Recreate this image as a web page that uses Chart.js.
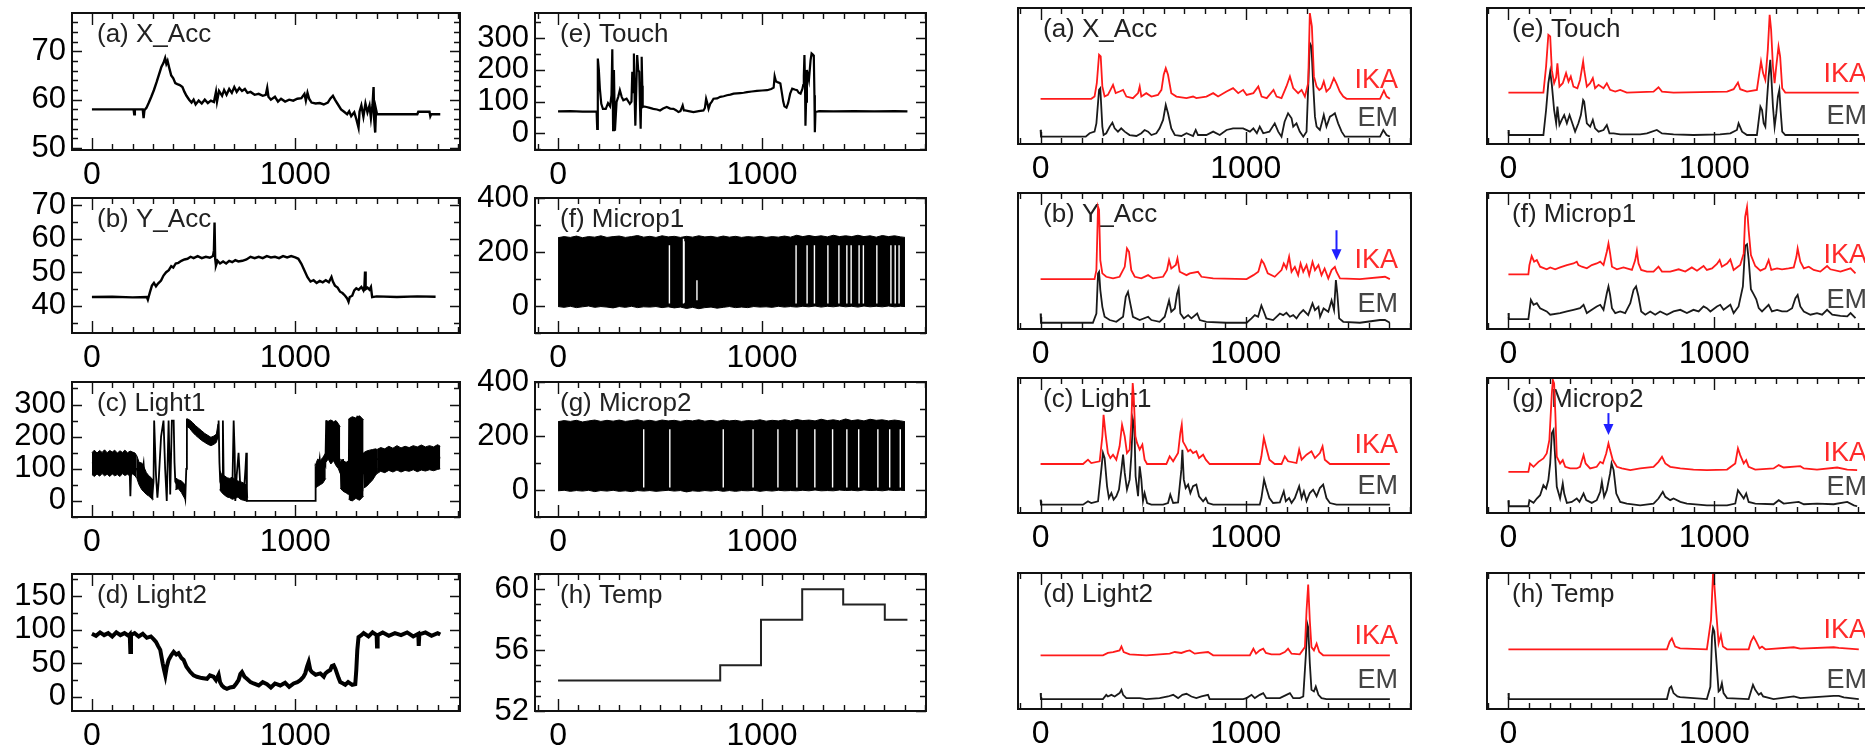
<!DOCTYPE html>
<html lang="en">
<head>
<meta charset="UTF-8">
<title>Sensor traces and change scores</title>
<script src="https://cdn.jsdelivr.net/npm/chart.js"></script>
<style>
    html, body { margin: 0; padding: 0; background: #fff; overflow: hidden; }
    body { width: 1865px; height: 748px; position: relative; }
    canvas { position: absolute; }
</style>
</head>
<body>
<script>
// ---------- raw sensor traces, [time, value] ----------
const xTickLabels = [0, 1000];

const accXTicks = [50, 60, 70];
const accX = [[0,58],[205,58],[208,57],[211,58],[250,58],[254,56.2],[258,57.8],[268,58.3],[280,59.4],[292,60.6],[305,62],[318,63.6],[330,65.2],[342,66.8],[352,67.6],[360,68.6],[366,67.4],[372,68],[380,66.6],[390,65],[400,64.4],[410,63.4],[420,63.2],[432,63],[445,62.6],[455,61.6],[465,60.8],[478,60],[490,59.4],[500,60],[510,59],[525,59.8],[540,59.2],[555,60],[570,59.3],[585,59.8],[600,59.5],[610,61.6],[615,59.6],[625,61.8],[640,60.8],[650,62],[662,61],[675,62.2],[688,61.4],[700,62.6],[712,61.6],[725,62.4],[738,61.8],[752,62.2],[765,61.4],[780,61.6],[800,61],[820,61.2],[840,60.8],[855,61],[862,62.4],[868,60.6],[880,60],[900,60.6],[915,59.6],[930,60.2],[950,59.6],[970,60],[990,59.8],[1010,60.2],[1030,60.3],[1045,61.2],[1052,59.8],[1060,61.4],[1068,60.2],[1080,59.4],[1100,59.2],[1120,59.3],[1140,59],[1160,59.4],[1172,60.2],[1185,60.8],[1195,60],[1210,59],[1225,58],[1240,57.5],[1255,57],[1265,57.6],[1275,56.6],[1290,57.4],[1300,56],[1311,54.2],[1316,57.5],[1325,58.8],[1335,56.5],[1345,59.2],[1355,57.4],[1365,58.8],[1372,56.2],[1380,59],[1385,62.6],[1388,56],[1393,53.2],[1397,58],[1402,57],[1450,57],[1600,57],[1605,57.5],[1660,57.5],[1664,56.6],[1668,57],[1713,57]];

const accYTicks = [40, 50, 60, 70];
const accY = [[0,42.6],[100,42.7],[200,42.5],[270,42.6],[275,41.8],[285,44],[295,46],[305,46.8],[315,45.8],[325,46.6],[340,47.5],[352,49],[365,50],[378,50.6],[390,51.8],[400,51.4],[412,52.6],[425,52.8],[440,53.4],[455,53.8],[470,54],[485,54.6],[500,54.2],[520,54.8],[540,54.2],[560,54.6],[580,54.3],[595,54.8],[600,56.5],[603,64.8],[606,54],[610,52],[618,53.4],[630,52.6],[645,53.2],[660,52.6],[675,53.4],[690,53],[705,53.6],[720,53.2],[740,53.4],[760,53.8],[780,54.6],[800,54.2],[820,54.6],[840,54.2],[860,54.8],[880,54.4],[900,54.6],[920,54.2],[940,54.8],[960,54.4],[980,54.8],[1000,54.4],[1015,54],[1030,52.5],[1045,50.5],[1060,48.5],[1075,47.2],[1090,47.6],[1105,46.8],[1120,47.4],[1135,47],[1150,47.6],[1165,47],[1178,48.6],[1185,47.2],[1195,46],[1208,45.4],[1220,44.2],[1232,43.8],[1245,43],[1255,42.2],[1262,41.2],[1268,42.6],[1280,43],[1290,44.6],[1300,45.2],[1312,44.8],[1325,45.6],[1335,44.6],[1340,45.8],[1343,50.2],[1346,45],[1355,45.4],[1365,44.8],[1372,45.6],[1378,42.6],[1400,42.8],[1500,42.6],[1600,42.8],[1690,42.7]];

const light1Ticks = [0, 100, 200, 300];
const light1 = [[0,120],[185,110],[189,15],[193,100],[221,100],[240,60],[254,116],[262,40],[280,30],[295,10],[303,60],[306,250],[315,80],[322,10],[328,60],[340,200],[352,250],[360,100],[368,0],[377,250],[385,20],[393,250],[402,250],[406,120],[410,60],[420,50],[435,60],[450,40],[459,8],[464,100],[467,250],[480,240],[500,225],[515,215],[533,205],[550,195],[566,189],[585,184],[600,188],[615,194],[620,215],[623,250],[627,120],[631,60],[640,40],[644,250],[648,60],[660,30],[675,40],[690,20],[697,250],[702,150],[705,0],[712,80],[721,150],[730,40],[740,20],[746,15],[755,100],[759,150],[762,0],[766,0],[1098,0],[1100,100],[1110,80],[1120,130],[1130,60],[1140,120],[1148,110],[1152,250],[1160,140],[1165,245],[1175,120],[1180,250],[1190,160],[1195,245],[1205,200],[1212,130],[1221,120],[1228,40],[1235,130],[1245,30],[1255,110],[1262,20],[1265,255],[1275,0],[1285,260],[1295,10],[1305,265],[1315,5],[1325,250],[1330,30],[1336,150],[1345,50],[1352,130],[1360,60],[1366,150],[1375,70],[1385,140],[1402,130],[1450,128],[1500,130],[1600,130],[1713,135]];
// dense stretches of Light1: [time, low edge, high edge]
const light1Bands = [
    [[0,82,150],[12,76,158],[25,84,149],[38,77,157],[50,85,151],[62,78,159],[75,83,150],[88,76,157],[100,84,152],[112,78,158],[125,82,149],[138,76,156],[150,85,151],[162,79,158],[175,83,150],[188,77,155],[200,84,152],[212,78,149],[221,70,140]],
    [[221,70,140],[232,50,120],[245,35,118],[256,28,105],[268,20,88],[280,15,78],[292,8,72],[303,5,62]],
    [[410,35,72],[425,38,66],[440,26,62],[452,12,55],[459,5,48]],
    [[467,232,256],[480,226,252],[495,214,244],[510,204,234],[525,196,226],[540,188,218],[555,182,210],[570,176,204],[585,172,198],[600,176,202],[612,182,208],[620,200,240]],
    [[628,35,95],[640,25,80],[652,18,78],[665,12,72],[678,10,70],[690,5,74],[705,8,66],[718,12,62],[730,5,60],[745,2,56],[758,0,50],[766,0,10]],
    [[1098,40,110],[1110,45,130],[1122,50,125],[1135,55,135],[1150,70,150]],
    [[1150,120,250],[1162,130,248],[1175,115,252],[1188,125,246],[1200,110,250],[1212,100,240],[1221,85,230]],
    [[1221,40,130],[1235,30,125],[1250,25,120],[1262,20,125]],
    [[1262,5,255],[1280,0,262],[1298,8,258],[1316,2,265],[1336,15,252]],
    [[1336,40,150],[1350,45,155],[1365,55,158],[1380,65,160],[1395,80,162],[1402,85,160]],
    [[1402,85,160],[1420,92,166],[1440,88,162],[1460,95,170],[1480,90,164],[1500,96,172],[1520,90,165],[1540,95,170],[1560,92,166],[1580,97,172],[1600,91,168],[1620,96,174],[1640,93,168],[1660,97,172],[1680,94,168],[1700,98,175],[1713,100,170]]
];

const light2Ticks = [0, 50, 100, 150];
const light2 = [[0,94],[20,91],[40,96],[60,92],[80,95],[100,90],[120,96],[140,92],[160,95],[180,91],[186,93],[189,67],[192,92],[210,95],[230,90],[250,94],[270,88],[290,90],[303,86],[315,82],[325,76],[336,70],[348,50],[355,40],[361,32],[368,45],[377,55],[390,62],[402,67],[415,63],[426,65],[440,58],[451,55],[465,45],[484,37],[500,32],[516,30],[540,28],[566,27],[580,32],[598,30],[610,25],[623,33],[630,22],[639,17],[650,14],[664,12],[680,14],[697,15],[710,20],[721,25],[730,34],[738,37],[750,30],[762,27],[780,22],[795,20],[820,17],[840,22],[861,19],[880,14],[900,20],[926,17],[950,21],[970,15],[992,20],[1010,22],[1025,25],[1040,30],[1049,35],[1058,45],[1066,52],[1074,40],[1082,37],[1100,33],[1123,35],[1140,30],[1148,35],[1160,38],[1172,40],[1180,46],[1189,47],[1197,42],[1205,35],[1213,28],[1221,22],[1235,20],[1246,18],[1260,22],[1280,18],[1295,19],[1300,40],[1305,70],[1311,89],[1325,92],[1336,95],[1360,90],[1380,96],[1400,92],[1402,75],[1405,92],[1430,96],[1460,91],[1490,95],[1520,92],[1550,96],[1580,90],[1605,94],[1607,76],[1610,93],[1640,96],[1670,91],[1700,95],[1713,93]];

const touchTicks = [0, 100, 200, 300];
const touch = [[0,69],[60,70],[120,68],[189,69],[192,14],[195,236],[200,200],[205,141],[212,93],[220,77],[234,77],[245,95],[255,85],[262,120],[266,265],[270,10],[274,200],[279,8],[287,99],[295,115],[303,136],[312,115],[320,104],[336,109],[352,93],[360,100],[364,194],[368,130],[372,252],[376,100],[379,24],[384,150],[388,247],[393,200],[398,194],[402,80],[405,14],[408,120],[410,242],[413,150],[415,83],[420,85],[434,83],[450,80],[467,77],[485,75],[500,72],[515,78],[533,83],[550,78],[566,77],[580,72],[590,67],[600,70],[611,88],[617,72],[623,72],[640,70],[664,67],[690,70],[713,72],[720,80],[726,109],[732,95],[738,77],[742,85],[746,93],[754,100],[762,109],[780,110],[795,115],[812,117],[828,120],[845,122],[861,125],[877,126],[893,127],[910,128],[926,130],[950,132],[975,134],[1000,135],[1025,136],[1045,140],[1057,144],[1062,180],[1068,165],[1074,162],[1082,160],[1090,157],[1098,125],[1104,100],[1110,85],[1120,81],[1128,95],[1138,125],[1148,141],[1160,138],[1172,136],[1180,128],[1189,125],[1198,140],[1202,152],[1205,180],[1208,247],[1211,150],[1213,24],[1216,100],[1220,200],[1230,168],[1238,230],[1243,252],[1250,248],[1254,242],[1257,120],[1259,3],[1262,67],[1280,70],[1350,69],[1450,70],[1550,69],[1650,70],[1713,69]];

const micTicks = [0, 200, 400];
// microphone traces oscillate too fast to resolve: [time, low edge, high edge]
const mic1Band = [[0,-2,253],[30,-5,257],[60,-1,254],[90,-6,259],[120,-3,253],[150,0,257],[180,-5,255],[210,-2,260],[240,-4,254],[270,-7,257],[300,-2,259],[330,-5,254],[360,-1,257],[390,-6,261],[420,-3,255],[450,-4,258],[480,-2,254],[510,-6,260],[540,-3,256],[570,-7,258],[600,-4,254],[630,-9,258],[660,-5,255],[690,-10,260],[720,-6,256],[750,-4,258],[780,-8,254],[810,-5,259],[840,-2,255],[870,-6,258],[900,-4,254],[930,-6,257],[960,-2,255],[990,-4,258],[1020,-3,254],[1050,-5,257],[1080,-1,255],[1110,-4,259],[1140,-2,255],[1170,-4,262],[1200,-1,257],[1230,-3,261],[1260,0,257],[1290,-4,260],[1320,-1,256],[1350,-3,262],[1380,0,257],[1410,-3,260],[1440,-1,257],[1470,-4,262],[1500,0,257],[1530,-3,260],[1560,-1,255],[1590,-3,261],[1620,0,257],[1650,-3,260],[1680,-1,256],[1701,-2,254]];
// short quiet spells inside the band: [time, from, to]
const mic1Gaps = [[546,225,9],[615,249,9],[618,240,12],[681,95,21],[1167,225,9],[1221,225,9],[1257,225,9],[1323,225,9],[1377,225,9],[1416,225,9],[1437,225,9],[1476,225,9],[1497,225,9],[1563,225,9],[1632,225,9],[1653,225,9],[1672,225,9]];

const mic2Band = [[0,-3,253],[30,-1,257],[60,-5,254],[90,-2,258],[120,-4,252],[150,-1,256],[180,-6,259],[210,-2,254],[240,-4,258],[270,-1,255],[300,-5,259],[330,-3,254],[360,-6,257],[390,-2,260],[420,-4,255],[450,-2,258],[480,-5,254],[510,-3,259],[540,-1,256],[570,-4,258],[600,-2,254],[630,-7,258],[660,-3,256],[690,-5,260],[720,-2,255],[750,-4,258],[780,-1,254],[810,-5,259],[840,-2,256],[870,-5,258],[900,-2,254],[930,-3,257],[960,-1,256],[990,-5,260],[1020,-2,255],[1050,-4,258],[1080,-1,256],[1110,-3,260],[1140,-2,256],[1170,-3,261],[1200,-1,257],[1230,-3,259],[1260,0,256],[1290,-3,262],[1320,-2,257],[1350,-3,260],[1380,0,256],[1410,-2,263],[1440,-1,257],[1470,-3,260],[1500,0,256],[1530,-2,262],[1560,-1,258],[1590,-3,260],[1620,0,256],[1650,-2,259],[1680,-1,256],[1701,-2,253]];
const mic2Gaps = [[420,225,9],[548,225,9],[810,225,9],[956,225,9],[1078,225,9],[1171,225,9],[1259,225,9],[1346,225,9],[1416,225,9],[1474,225,9],[1568,225,9],[1626,225,9],[1678,225,9]];

const tempTicks = [52, 56, 60];
const temp = [[0,54],[795,55],[995,58],[1197,60],[1398,59],[1602,58],[1713,58]];

// ---------- change scores (height above each curve's baseline, % of panel) ----------
const emXAcc = [[0,5],[2,0],[220,0],[239,2.5],[263,3.7],[272,9.8],[285,34.4],[291,35.6],[301,7.4],[307,1.2],[320,2.5],[337,7.4],[350,10.3],[361,6.1],[377,3.7],[393,6.1],[410,3.7],[434,1.2],[467,0.5],[491,2.5],[507,4.9],[524,3.7],[540,1.2],[564,2.5],[580,6.1],[597,12.3],[610,23.3],[621,17.2],[637,6.1],[654,1.2],[686,0.5],[711,2.5],[743,0.5],[756,4.9],[767,1.2],[808,1.2],[841,3.7],[873,1.2],[906,4.9],[938,6.1],[987,6.1],[1020,3.7],[1037,6.1],[1054,2.5],[1068,7.4],[1085,2.5],[1115,3.7],[1141,9.8],[1158,3.7],[1174,0],[1189,11],[1206,17.2],[1223,13.5],[1231,7.4],[1247,9.8],[1263,3.7],[1280,0],[1296,3.7],[1312,68.8],[1320,66.3],[1328,39.3],[1337,14.7],[1345,7.4],[1361,4.9],[1374,12.3],[1380,16],[1393,7.4],[1410,14.7],[1423,16],[1434,17.2],[1450,9.8],[1467,3.7],[1483,0],[1654,0],[1670,4.9],[1686,1.2],[1702,0]];
const ikaXAcc = [[0,0],[247,0],[263,1.7],[274,11.5],[285,32.4],[293,31.2],[301,9.1],[312,1.7],[328,2.9],[345,7.9],[353,10.3],[366,4.2],[385,5.4],[402,6.6],[418,1.7],[450,0.5],[475,4.2],[483,9.1],[491,1.7],[515,4.2],[540,1.7],[572,2.9],[589,6.6],[600,17.7],[610,22.6],[621,17.7],[637,4.2],[662,1.7],[711,0.5],[743,1.7],[759,0.5],[808,1.7],[841,4.2],[865,1.7],[906,5.4],[938,7.9],[963,4.2],[987,6.6],[1004,2.9],[1037,4.2],[1061,9.1],[1077,1.7],[1102,0.5],[1135,6.6],[1150,1.7],[1174,0.5],[1198,9.1],[1215,16.5],[1231,7.9],[1255,4.2],[1272,6.6],[1288,1.7],[1304,11.5],[1312,63.1],[1322,53.3],[1332,16.5],[1345,9.1],[1358,6.6],[1369,7.9],[1380,12.8],[1393,5.4],[1410,7.9],[1429,15.2],[1441,11.5],[1458,5.4],[1475,1.7],[1491,0],[1654,0],[1673,6.1],[1686,1.7],[1702,0]];

const emYAcc = [[0,6.8],[2,0],[255,0],[272,6.8],[280,36.2],[285,37.4],[291,24.2],[301,11.7],[312,4.4],[337,2],[369,0.7],[402,4.4],[415,19.1],[426,22.7],[437,14.2],[450,4.4],[483,2],[524,4.4],[540,2],[580,0.7],[605,4.4],[626,16.4],[637,8.1],[654,10.5],[665,21.3],[673,25.2],[681,6.8],[698,3.2],[719,5.6],[735,3.2],[763,6.8],[776,2],[808,0.7],[906,0],[1004,0],[1028,3.2],[1044,5.6],[1060,4.4],[1076,12.7],[1088,8.1],[1100,3.2],[1133,2],[1166,6.8],[1182,5.6],[1198,7.3],[1215,4.4],[1231,5.6],[1247,3.2],[1263,6.8],[1280,9.3],[1304,5.6],[1325,14.2],[1337,9.3],[1354,11.7],[1362,4.4],[1379,10.5],[1402,8.1],[1418,16.4],[1430,9.3],[1439,31.3],[1446,21.3],[1455,3.2],[1475,0.7],[1556,0],[1654,2],[1678,2],[1702,0]];
const ikaYAcc = [[0,0],[263,0],[272,6.6],[280,53.2],[285,50.9],[291,14],[301,4.2],[320,1.7],[353,0.5],[385,1.7],[410,9],[421,22.5],[431,20],[442,6.6],[459,1.7],[491,0.5],[524,2.9],[548,0.5],[597,1.7],[616,6.6],[626,13.9],[637,7.8],[659,10.3],[667,15.2],[678,5.4],[711,2.9],[727,4.2],[767,5.4],[784,1.7],[841,0.5],[1004,0],[1037,2.9],[1061,5.4],[1077,13.9],[1088,11.5],[1107,4.2],[1141,1.7],[1174,6.6],[1185,11.5],[1198,7.8],[1211,16.4],[1223,5.4],[1239,9],[1255,2.9],[1267,11.5],[1280,5.4],[1296,10.3],[1309,2.9],[1325,12.7],[1337,6.6],[1354,10.3],[1369,2.9],[1384,7.8],[1402,0.5],[1418,6.6],[1434,9],[1442,5.4],[1459,0.5],[1556,0],[1678,1.7],[1702,0]];
const yAccArrow = [1442, 72.6, 50.6];

const emLight1 = [[0,3.7],[2,0],[207,0],[231,2.5],[247,1.2],[280,2.5],[296,25.9],[304,38.3],[312,34.6],[324,13.6],[333,4.9],[345,8.6],[356,3.7],[369,6.2],[382,11.1],[394,25.9],[402,37],[410,23.5],[421,11.1],[434,18.5],[442,35.8],[450,63],[457,58],[463,21],[475,6.2],[483,28.4],[491,18.5],[499,2.5],[507,8.6],[519,1.2],[540,0],[597,0],[621,1.2],[632,7.4],[646,1.2],[670,1.7],[686,25.9],[691,40.7],[698,18.5],[707,12.3],[719,14.8],[730,8.6],[743,13.6],[759,14.8],[772,6.2],[792,2.5],[805,4.9],[816,1.2],[841,0],[1068,0],[1076,4.9],[1089,18.5],[1100,12.3],[1115,4.9],[1133,1.2],[1166,1.7],[1185,9.9],[1195,2.5],[1211,4.9],[1223,1.2],[1239,4.9],[1260,13.6],[1272,4.9],[1283,9.9],[1296,2.5],[1312,8.6],[1328,11.1],[1345,6.2],[1361,12.3],[1377,14.8],[1393,4.9],[1410,1.2],[1442,0],[1702,0]];
const ikaLight1 = [[0,0],[207,0],[231,3.2],[247,0.7],[288,2],[301,20.5],[307,36.5],[317,21.7],[328,8.1],[340,4.4],[353,6.9],[369,3.2],[385,13.1],[397,29.1],[410,20.5],[421,8.1],[434,10.6],[442,30.4],[449,60],[454,50],[462,20.5],[470,15.6],[483,10.6],[496,14.3],[507,3.2],[519,0],[613,0],[629,5.7],[646,2],[670,8.1],[681,23],[688,29.1],[694,16.6],[707,13.1],[719,9.4],[730,10.6],[743,8.1],[759,9.4],[772,4.4],[792,6.9],[805,3.2],[824,0],[1068,0],[1076,5.7],[1088,19.3],[1100,11.9],[1115,3.2],[1141,0],[1174,0],[1190,5.7],[1206,2],[1247,0.7],[1260,10.6],[1272,3.2],[1296,6.9],[1320,9.4],[1337,4.4],[1361,8.1],[1374,13.1],[1385,3.2],[1410,0],[1702,0]];

const emLight2 = [[0,4.4],[2,0],[304,0],[320,3.1],[328,1.9],[345,3.1],[361,1.9],[385,4.4],[394,6.8],[402,3.1],[418,0.7],[483,0.7],[515,0],[580,0.7],[621,1.9],[646,3.1],[670,0.7],[691,3.1],[711,3.9],[735,1.9],[759,0.7],[784,1.9],[816,3.1],[824,0],[987,0],[1004,0.7],[1028,3.1],[1044,0.7],[1068,3.1],[1085,4.4],[1100,0.7],[1166,0.7],[1198,3.1],[1215,4.4],[1231,0.7],[1263,0.7],[1280,1.9],[1293,33.4],[1300,55.2],[1304,52.8],[1312,26.2],[1320,6.8],[1332,5.6],[1341,9.2],[1354,3.1],[1369,0.7],[1393,0],[1702,0]];
const ikaLight2 = [[0,0],[304,0],[328,1.7],[353,2.4],[385,3.6],[394,6.5],[405,2.4],[434,0.7],[515,0],[629,1.2],[654,2.4],[686,1.7],[711,3.1],[727,3.6],[751,1.2],[776,1.7],[816,2.4],[841,0],[1020,0],[1037,4.8],[1050,1.2],[1068,3.6],[1085,4.8],[1098,1.7],[1125,0.7],[1166,0.7],[1190,2.4],[1206,4.8],[1223,1.2],[1263,0.7],[1288,6],[1296,32.7],[1304,52],[1312,25.4],[1320,6],[1332,3.6],[1345,8.5],[1358,2.4],[1377,0],[1702,0]];

const emTouch = [[0,3.7],[2,0],[170,0],[183,18.4],[194,38.1],[203,46.7],[211,36.9],[222,18.4],[232,8.6],[238,20.9],[248,7.4],[259,11.1],[271,14.7],[284,8.6],[297,14.7],[308,9.8],[324,2.5],[340,8.6],[352,14.7],[363,25.8],[368,24.6],[381,8.6],[397,6.1],[410,11.1],[421,4.9],[438,2.5],[462,3.7],[478,7.4],[491,1.2],[511,1.2],[543,0.5],[640,0.5],[673,1.2],[721,3.7],[746,1.2],[802,0.5],[899,0],[1028,0.5],[1078,1.2],[1110,3.7],[1118,8.6],[1135,2.5],[1159,0],[1207,0],[1224,20.9],[1232,18.4],[1240,8.6],[1248,6.1],[1256,25.8],[1264,43],[1272,55.3],[1277,43],[1285,20.9],[1293,6.1],[1301,15.7],[1309,28.3],[1316,33.2],[1322,18.4],[1330,2.5],[1345,0],[1702,0]];
const ikaTouch = [[0,0],[170,0],[183,19.2],[194,42.5],[203,41.3],[211,16.5],[222,6.9],[232,11.3],[238,21.6],[248,4.4],[264,6.9],[280,14.3],[292,8.1],[303,11.8],[316,4.4],[335,3.2],[348,9.3],[363,22.9],[368,16.7],[381,4.4],[397,6.9],[410,10.6],[421,3.2],[438,5.7],[462,3.2],[478,6.9],[494,2],[519,0.7],[543,2],[575,0],[705,0.7],[729,3.9],[746,0.7],[802,0],[1062,0.7],[1094,2.5],[1115,7.4],[1126,2.5],[1159,0.7],[1207,2],[1227,22.9],[1237,14.3],[1248,9.3],[1260,31.4],[1269,57.2],[1276,46.4],[1285,19.2],[1293,6.9],[1301,19.2],[1312,33.9],[1320,26.5],[1330,3.2],[1345,0],[1702,0]];

const emMic1 = [[0,4.4],[2,0],[97,0],[109,14.1],[122,10.5],[138,11.7],[154,8],[186,5.6],[203,3.2],[251,4.4],[284,5.6],[316,6.8],[348,8],[365,10.5],[381,4.4],[405,6.8],[429,9.3],[446,10.5],[462,6.8],[478,19],[486,24],[494,17.8],[503,8],[519,4.4],[543,5.6],[567,4.4],[592,11.7],[608,21.5],[620,24],[632,16.6],[645,5.6],[665,3.2],[689,5.6],[713,3.2],[737,5.6],[770,3.2],[802,5.6],[835,6.8],[867,4.4],[899,6.8],[924,5.6],[948,9.3],[964,8],[981,5.6],[1013,9.3],[1029,10.5],[1045,6.8],[1078,10.5],[1094,4.4],[1118,9.3],[1139,24],[1150,53.7],[1159,54.9],[1167,43.9],[1178,21.9],[1191,18.3],[1204,14.6],[1216,8.1],[1232,5.6],[1248,8],[1264,10.5],[1280,5.6],[1305,6.8],[1329,5.6],[1353,5.6],[1378,8],[1394,15.4],[1405,17.8],[1418,9.3],[1435,5.6],[1467,3.2],[1499,4.4],[1524,3.2],[1548,6.8],[1573,3.2],[1613,2.4],[1646,2],[1662,4.4],[1686,0.7]];
const ikaMic1 = [[0,0],[97,0],[102,6.8],[113,13.4],[125,9.3],[138,10.5],[154,5.6],[186,3.7],[203,5.1],[227,3.7],[251,5.1],[284,6.8],[316,8],[332,9.3],[340,6.8],[357,5.6],[381,4.4],[405,6.8],[429,8],[446,9.3],[462,6.8],[478,16.6],[486,22.7],[494,15.4],[503,5.6],[527,3.7],[559,5.1],[600,3.2],[616,10.5],[624,17.3],[632,8],[645,3.2],[673,2],[705,2],[729,5.6],[746,2],[786,2],[827,3.7],[859,2],[891,5.1],[916,2.7],[948,6.1],[964,3.2],[989,4.4],[1013,7.6],[1026,10.5],[1037,5.6],[1062,8],[1078,11],[1094,3.2],[1126,6.8],[1143,15.4],[1150,42.2],[1159,49.5],[1167,32.4],[1178,14.1],[1199,6.1],[1224,2.7],[1248,4.4],[1264,10.5],[1277,3.2],[1305,4.4],[1329,3.7],[1361,4.4],[1386,5.1],[1399,12.9],[1405,19],[1418,9.3],[1435,4.4],[1459,5.6],[1483,3.2],[1515,2],[1548,6.1],[1564,3.7],[1613,2],[1662,4.4],[1686,0.7]];

const emMic2 = [[0,4.5],[2,0],[97,0],[102,4.5],[122,2.5],[138,5.7],[154,8.2],[170,15.6],[183,13.1],[194,19.4],[203,31.8],[211,54.1],[219,56.6],[227,36.7],[235,14.4],[251,5.7],[264,16.9],[271,9.4],[284,2.5],[308,3.2],[332,5.7],[345,3.2],[365,9.4],[378,4.5],[405,2.5],[429,4.5],[446,10.7],[454,18.1],[465,7],[478,11.9],[494,24.3],[501,31.8],[511,26.8],[524,9.4],[543,3.2],[575,2],[640,0.7],[705,2],[729,5.7],[750,10.7],[762,7],[786,4.5],[802,5.7],[835,3.2],[867,2],[964,0.7],[1062,0.7],[1102,2],[1115,11.9],[1126,9.4],[1143,5.7],[1155,9.4],[1167,3.2],[1199,2],[1288,1.5],[1313,4.5],[1337,2],[1410,3.2],[1435,1.5],[1499,2],[1580,1.5],[1646,3.2],[1678,0.7],[1694,0]];
const ikaMic2 = [[0,0],[97,0],[105,6.2],[122,3.7],[146,7.4],[170,9.9],[186,13.6],[199,23.6],[211,58.3],[216,68],[222,65.5],[228,43.2],[235,11.2],[251,6.2],[264,8.7],[276,3.7],[300,2.5],[332,2.5],[348,3.7],[365,12.4],[375,6.2],[397,2.5],[429,3.7],[446,7.4],[459,6.2],[475,13.6],[486,21.1],[494,16.1],[507,8.7],[527,3.7],[551,2.5],[592,1.2],[640,2.5],[705,3.7],[729,7.4],[746,11.2],[762,6.2],[786,3.7],[835,2.5],[899,1.7],[964,1.2],[1062,1.7],[1102,6.2],[1115,17.4],[1126,12.4],[1143,6.2],[1155,8.7],[1167,3.7],[1199,1.7],[1288,2.5],[1313,5],[1337,3.2],[1418,4.2],[1435,2.5],[1499,1.7],[1597,3.2],[1646,1.7],[1694,1.2]];
const mic2Arrow = [486, 74, 57.8];

const emTemp = [[0,4.4],[2,0],[770,0],[783,8],[791,9.3],[802,4.4],[821,2],[834,1.5],[964,0],[981,9],[989,45.9],[994,52.2],[1000,49.8],[1010,28.8],[1021,5.6],[1029,6.8],[1037,11.7],[1045,4.4],[1062,0.7],[1167,0],[1178,5.6],[1188,10.5],[1199,6.8],[1216,3.2],[1227,4.4],[1237,2],[1288,0],[1386,2],[1418,0.7],[1580,2.4],[1605,2.4],[1629,1.2],[1702,0]];
const ikaTemp = [[0,0],[770,0],[783,5.6],[794,8],[810,2],[834,0.7],[964,0],[984,21.5],[994,55.6],[1000,48.3],[1010,26.3],[1021,4.4],[1032,10.5],[1042,2],[1062,0],[1167,0],[1178,5.6],[1191,9.3],[1204,5.6],[1220,0.7],[1232,2],[1248,0],[1386,1.5],[1418,0.5],[1580,1.5],[1605,1],[1702,0]];

// ---------- page geometry ----------
const FONT = '"Liberation Sans", Arial, Helvetica, sans-serif';
const COLS = [
    { left: 72,   width: 388, xmin: -98,  xmax: 1810, yw: 72 },
    { left: 535,  width: 391, xmin: -113, xmax: 1804, yw: 80 },
    { left: 1018, width: 393, xmin: -110, xmax: 1805, yw: 4 },
    { left: 1487, width: 393, xmin: -104, xmax: 1805, yw: 4 }
];
const ROWS_L = [[13, 150], [198, 333], [382, 517], [574, 711]];
const ROWS_R = [[8, 144], [193, 329], [378, 513], [573, 709]];

const pts = (arr, off = 0) => arr.map(([t, v]) => ({ x: t, y: v + off }));

function line(data, color, width, extra = {}) {
    return Object.assign({ data, borderColor: color, borderWidth: width, pointRadius: 0, fill: false, tension: 0 }, extra);
}
function band(rows, color) {
    return [
        line(rows.map(r => ({ x: r[0], y: r[2] })), color, 1, { fill: '+1', backgroundColor: color }),
        line(rows.map(r => ({ x: r[0], y: r[1] })), color, 1)
    ];
}
function gapLines(rows) {
    const d = [];
    rows.forEach(([t, a, b]) => d.push({ x: t, y: a }, { x: t, y: b }, { x: t, y: null }));
    return line(d, '#fff', 1.4);
}

const panels = [
    { title: '(a) X_Acc', col: 0, row: 0, ymin: 49.6, ymax: 77.9, yStep: 2, yTicks: accXTicks,
      datasets: [line(pts(accX), '#000', 2.4)] },
    { title: '(b) Y_Acc', col: 0, row: 1, ymin: 31.9, ymax: 72.1, yStep: 5, yTicks: accYTicks,
      datasets: [line(pts(accY), '#000', 2.4)] },
    { title: '(c) Light1', col: 0, row: 2, ymin: -50, ymax: 370, yStep: 50, yTicks: light1Ticks,
      datasets: [line(pts(light1), '#000', 1.8)].concat(...light1Bands.map(b => band(b, '#000'))) },
    { title: '(d) Light2', col: 0, row: 3, ymin: -21, ymax: 183, yStep: 25, yTicks: light2Ticks,
      datasets: [line(pts(light2), '#000', 4)] },
    { title: '(e) Touch', col: 1, row: 0, ymin: -53, ymax: 380, yStep: 50, yTicks: touchTicks,
      datasets: [line(pts(touch), '#000', 2.2)] },
    { title: '(f) Microp1', col: 1, row: 1, ymin: -100, ymax: 400, yStep: 100, yTicks: micTicks,
      datasets: [gapLines(mic1Gaps)].concat(band(mic1Band, '#000')) },
    { title: '(g) Microp2', col: 1, row: 2, ymin: -100, ymax: 400, yStep: 100, yTicks: micTicks,
      datasets: [gapLines(mic2Gaps)].concat(band(mic2Band, '#000')) },
    { title: '(h) Temp', col: 1, row: 3, ymin: 52, ymax: 61, yStep: 1, yTicks: tempTicks,
      datasets: [line(pts(temp), '#222', 2, { stepped: true })] },

    { title: '(a) X_Acc', col: 2, row: 0, right: true, em: emXAcc, ika: ikaXAcc, emBase: 5.4, ikaBase: 33.2 },
    { title: '(b) Y_Acc', col: 2, row: 1, right: true, em: emYAcc, ika: ikaYAcc, emBase: 4.6, ikaBase: 36.7, arrow: yAccArrow },
    { title: '(c) Light1', col: 2, row: 2, right: true, em: emLight1, ika: ikaLight1, emBase: 6.2, ikaBase: 36.3 },
    { title: '(d) Light2', col: 2, row: 3, right: true, em: emLight2, ika: ikaLight2, emBase: 7.3, ikaBase: 39.5 },
    { title: '(e) Touch', col: 3, row: 0, right: true, em: emTouch, ika: ikaTouch, emBase: 6.6, ikaBase: 37.8 },
    { title: '(f) Microp1', col: 3, row: 1, right: true, em: emMic1, ika: ikaMic1, emBase: 7.3, ikaBase: 40.2 },
    { title: '(g) Microp2', col: 3, row: 2, right: true, em: emMic2, ika: ikaMic2, emBase: 5.0, ikaBase: 30.5, arrow: mic2Arrow },
    { title: '(h) Temp', col: 3, row: 3, right: true, em: emTemp, ika: ikaTemp, emBase: 7.3, ikaBase: 43.9 }
];

// box, inward ticks, titles and curve labels
function decor(p, col) {
    return {
        id: 'decor',
        beforeDatasetsDraw(chart) {
            const { ctx, chartArea: a } = chart;
            ctx.save();
            ctx.fillStyle = '#222';
            ctx.font = `26px ${FONT}`;
            ctx.textAlign = 'left';
            ctx.textBaseline = 'alphabetic';
            ctx.fillText(p.title, a.left + 25, a.top + 29);
            ctx.restore();
        },
        afterDatasetsDraw(chart) {
            const { ctx, chartArea: a, scales: { x, y } } = chart;
            ctx.save();
            ctx.strokeStyle = '#111';
            ctx.lineWidth = 1.4;
            ctx.beginPath();
            for (let v = Math.ceil(col.xmin / 100) * 100; v <= col.xmax; v += 100) {
                const px = Math.round(x.getPixelForValue(v)) + 0.5;
                const len = xTickLabels.includes(v) ? 12 : 6;
                ctx.moveTo(px, a.bottom); ctx.lineTo(px, a.bottom - len);
                ctx.moveTo(px, a.top); ctx.lineTo(px, a.top + len);
            }
            if (!p.right) {
                const start = Math.ceil(p.ymin / p.yStep - 1e-9) * p.yStep;
                for (let v = start; v <= p.ymax + 1e-9; v += p.yStep) {
                    const py = Math.round(y.getPixelForValue(v)) + 0.5;
                    const len = p.yTicks.some(m => Math.abs(m - v) < 1e-6) ? 10 : 6;
                    ctx.moveTo(a.left, py); ctx.lineTo(a.left + len, py);
                    ctx.moveTo(a.right, py); ctx.lineTo(a.right - len, py);
                }
            }
            ctx.stroke();
            ctx.lineWidth = 2;
            ctx.strokeRect(a.left, a.top, a.right - a.left, a.bottom - a.top);

            if (p.right) {
                ctx.font = `27px ${FONT}`;
                ctx.textAlign = 'right';
                ctx.textBaseline = 'alphabetic';
                ctx.fillStyle = '#ff2a2a';
                ctx.fillText('IKA', a.right - 13, y.getPixelForValue(p.ikaBase) - 11);
                ctx.fillStyle = '#444';
                ctx.fillText('EM', a.right - 13, y.getPixelForValue(p.emBase) - 11);
            }
            if (p.arrow) {
                const ax = x.getPixelForValue(p.arrow[0]);
                const y1 = y.getPixelForValue(p.arrow[1]);
                const y2 = y.getPixelForValue(p.arrow[2]);
                ctx.strokeStyle = ctx.fillStyle = '#1f1fff';
                ctx.lineWidth = 2;
                ctx.beginPath(); ctx.moveTo(ax, y1); ctx.lineTo(ax, y2 - 8); ctx.stroke();
                ctx.beginPath();
                ctx.moveTo(ax - 5, y2 - 11); ctx.lineTo(ax + 5, y2 - 11); ctx.lineTo(ax, y2);
                ctx.closePath(); ctx.fill();
            }
            ctx.restore();
        }
    };
}

function addPanel(p) {
    const col = COLS[p.col];
    const [top, bottom] = (p.right ? ROWS_R : ROWS_L)[p.row];
    const PT = p.right ? 6 : 22, PR = 6, XH = 50;
    const cv = document.createElement('canvas');
    cv.width = col.yw + col.width + PR;
    cv.height = PT + (bottom - top) + XH;
    cv.style.left = (col.left - col.yw) + 'px';
    cv.style.top = (top - PT) + 'px';
    document.body.appendChild(cv);

    let datasets = p.datasets;
    let ymin = p.ymin, ymax = p.ymax;
    if (p.right) {
        ymin = 0; ymax = 100;
        datasets = [
            line(pts(p.ika, p.ikaBase), '#ff1a1a', 1.8),
            line(pts(p.em, p.emBase), '#1a1a1a', 1.8)
        ];
    }

    new Chart(cv, {
        type: 'line',
        data: { datasets },
        options: {
            responsive: false,
            animation: false,
            devicePixelRatio: 1,
            layout: { padding: { top: PT, right: PR, left: 0, bottom: 0 } },
            plugins: { legend: { display: false }, tooltip: { enabled: false } },
            elements: { point: { radius: 0 } },
            scales: {
                x: {
                    type: 'linear', min: col.xmin, max: col.xmax,
                    afterBuildTicks: s => { s.ticks = xTickLabels.map(v => ({ value: v })); },
                    afterFit: s => { s.height = XH; s.paddingLeft = 0; s.paddingRight = 0; },
                    grid: { display: false, drawTicks: false },
                    border: { display: false },
                    ticks: { font: { family: FONT, size: 32 }, color: '#000', padding: 6,
                             maxRotation: 0, autoSkip: false, callback: v => String(v) }
                },
                y: {
                    type: 'linear', min: ymin, max: ymax,
                    afterBuildTicks: s => { if (!p.right) s.ticks = p.yTicks.map(v => ({ value: v })); },
                    afterFit: s => { s.width = col.yw; s.paddingTop = 0; s.paddingBottom = 0; },
                    grid: { display: false, drawTicks: false },
                    border: { display: false },
                    ticks: { display: !p.right, font: { family: FONT, size: 31 }, color: '#000', padding: 6,
                             autoSkip: false, callback: v => String(v) }
                }
            }
        },
        plugins: [decor(p, col)]
    });
}

panels.forEach(addPanel);
</script>
</body>
</html>
